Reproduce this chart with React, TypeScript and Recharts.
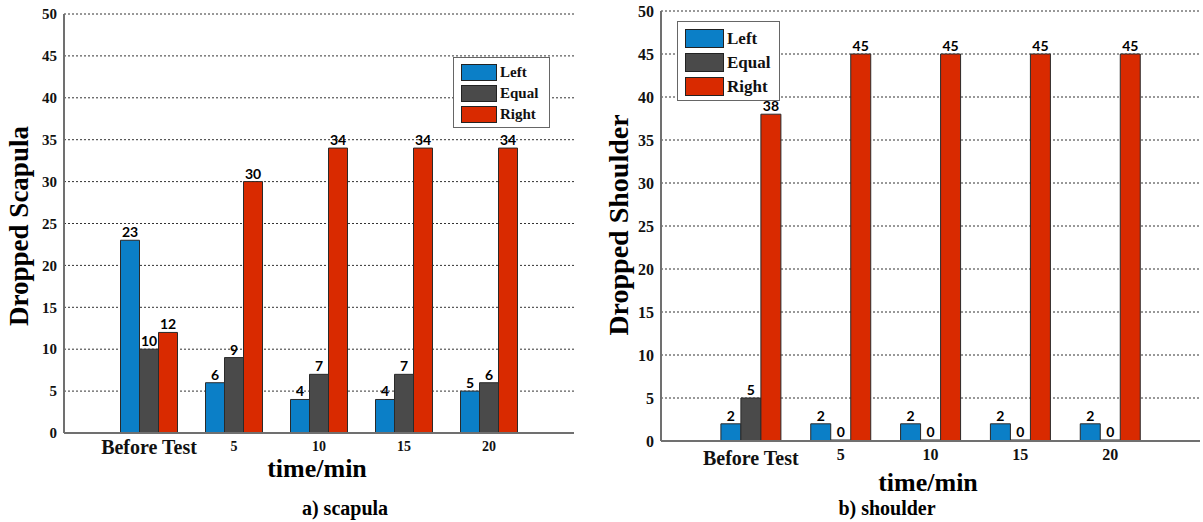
import React from 'react';
import { BarChart, Bar, XAxis, YAxis, CartesianGrid, Legend, LabelList, Label } from 'recharts';

const categories = ['Before Test', '5', '10', '15', '20'];
const seriesNames = ['Left', 'Equal', 'Right'];
const seriesColors = ['#0b7fc7', '#4a4a4a', '#d92a00'];
const scapulaLeft = [23, 6, 4, 4, 5];
const scapulaEqual = [10, 9, 7, 7, 6];
const scapulaRight = [12, 30, 34, 34, 34];
const shoulderLeft = [2, 2, 2, 2, 2];
const shoulderEqual = [5, 0, 0, 0, 0];
const shoulderRight = [38, 45, 45, 45, 45];
const yTicks = [0, 5, 10, 15, 20, 25, 30, 35, 40, 45, 50];

const SERIF = '"Liberation Serif", "Times New Roman", serif';
const SANS = 'Lato, "Open Sans", sans-serif';

const buildData = (l: number[], e: number[], r: number[]) =>
  categories.map((c, i) => ({ cat: c, Left: l[i], Equal: e[i], Right: r[i] }));

const scapulaData = buildData(scapulaLeft, scapulaEqual, scapulaRight);
const shoulderData = buildData(shoulderLeft, shoulderEqual, shoulderRight);

type PanelCfg = {
  data: any[];
  left: number;
  width: number;
  margin: { top: number; right: number; bottom: number; left: number };
  xPad: number;
  barSize: number;
  yTitle: string;
  yTitleX: number;
  yTitleY: number;
  yTitleSize: number;
  xTitleX: number;
  xTitleY: number;
  captionText: string;
  captionX: number;
  captionY: number;
  yTickSize: number;
  xNumSize: number;
  xBigSize: number;
  xBigDy: number;
  xNumDy: number;
  legendLeft: number;
  legendTop: number;
  legendW: number;
  legendH: number;
  swW: number;
  swH: number;
  legendFont: number;
};

const makeXTick = (cfg: PanelCfg) => (props: any) => {
  const { x, y, payload } = props;
  const big = payload.value === 'Before Test';
  return (
    <text
      x={x}
      y={y}
      dy={big ? cfg.xBigDy : cfg.xNumDy}
      textAnchor="middle"
      fontFamily={SERIF}
      fontWeight="bold"
      fontSize={big ? cfg.xBigSize : cfg.xNumSize}
      fill="#111"
    >
      {payload.value}
    </text>
  );
};

const makeYTick = (cfg: PanelCfg) => (props: any) => {
  const { x, y, payload } = props;
  return (
    <text x={x + 1} y={y} dy={cfg.yTickSize * 0.35} textAnchor="end" fontFamily={SERIF} fontWeight="bold" fontSize={cfg.yTickSize} fill="#111">
      {payload.value}
    </text>
  );
};

const makeLegend = (cfg: PanelCfg) => () => (
  <div
    style={{
      width: cfg.legendW,
      height: cfg.legendH,
      boxSizing: 'border-box',
      border: '1.5px solid #666',
      background: '#fff',
      padding: '4px 0 0 7px',
    }}
  >
    {seriesNames.map((n, i) => (
      <div key={n} style={{ display: 'flex', alignItems: 'center', height: (cfg.legendH - 8) / 3 }}>
        <span
          style={{
            display: 'inline-block',
            width: cfg.swW,
            height: cfg.swH,
            boxSizing: 'border-box',
            background: seriesColors[i],
            border: '1px solid #222',
            marginRight: 3,
          }}
        />
        <span style={{ fontFamily: SERIF, fontWeight: 'bold', fontSize: cfg.legendFont, color: '#111', lineHeight: 1 }}>{n}</span>
      </div>
    ))}
  </div>
);

const ValueLabel = (props: any) => {
  const { x, y, width, height, value } = props;
  if (value === undefined || value === null) return null;
  const top = Math.min(y, y + (height || 0));
  return (
    <text x={x + width / 2} y={top - 3} textAnchor="middle" fontFamily={SANS} fontWeight="bold" fontSize={14} fill="#000">
      {value}
    </text>
  );
};

const Panel = ({ cfg }: { cfg: PanelCfg }) => {
  return (
    <div style={{ position: 'absolute', left: cfg.left, top: 0 }}>
      <BarChart width={cfg.width} height={522} data={cfg.data} margin={cfg.margin} barGap={0} barSize={cfg.barSize}>
        <CartesianGrid vertical={false} stroke="#333" strokeDasharray="2 2" strokeWidth={1} />
        <XAxis
          dataKey="cat"
          height={30}
          padding={{ left: cfg.xPad, right: cfg.xPad }}
          axisLine={{ stroke: '#707070', strokeWidth: 2 }}
          tickLine={false}
          tick={makeXTick(cfg)}
          interval={0}
        >
          <Label
            content={() => (
              <g>
                <text x={cfg.xTitleX} y={cfg.xTitleY} textAnchor="middle" fontFamily={SERIF} fontWeight="bold" fontSize={26} fill="#000">
                  time/min
                </text>
                <text x={cfg.captionX} y={cfg.captionY} textAnchor="middle" fontFamily={SERIF} fontWeight="bold" fontSize={20} fill="#000">
                  {cfg.captionText}
                </text>
              </g>
            )}
          />
        </XAxis>
        <XAxis
          xAxisId="top"
          dataKey="cat"
          orientation="top"
          height={0}
          mirror
          padding={{ left: cfg.xPad, right: cfg.xPad }}
          tick={false}
          tickSize={4}
          tickLine={{ stroke: '#707070' }}
          axisLine={{ stroke: '#707070', strokeWidth: 2 }}
        />
        <YAxis
          domain={[0, 50]}
          ticks={yTicks}
          width={40}
          interval={0}
          axisLine={{ stroke: '#707070', strokeWidth: 2 }}
          tickLine={false}
          tick={makeYTick(cfg)}
        >
          <Label
            content={() => (
              <text
                x={cfg.yTitleX}
                y={cfg.yTitleY}
                transform={`rotate(-90, ${cfg.yTitleX}, ${cfg.yTitleY})`}
                textAnchor="middle"
                fontFamily={SERIF}
                fontWeight="bold"
                fontSize={cfg.yTitleSize}
                fill="#000"
              >
                {cfg.yTitle}
              </text>
            )}
          />
        </YAxis>
        <YAxis
          yAxisId="right"
          orientation="right"
          domain={[0, 50]}
          width={0}
          tick={false}
          tickLine={false}
          axisLine={{ stroke: '#707070', strokeWidth: 2 }}
        />
        <Legend
          layout="vertical"
          align="center"
          verticalAlign="middle"
          content={makeLegend(cfg)}
          wrapperStyle={{ left: cfg.legendLeft, top: cfg.legendTop, width: cfg.legendW, height: cfg.legendH }}
        />
        {seriesNames.map((n, i) => (
          <Bar
            key={n}
            dataKey={n}
            fill={seriesColors[i]}
            stroke="#2a2a2a"
            strokeWidth={1}
            minPointSize={1}
            isAnimationActive={false}
          >
            <LabelList dataKey={n} content={ValueLabel} />
          </Bar>
        ))}
      </BarChart>
    </div>
  );
};

const scapulaCfg: PanelCfg = {
  data: scapulaData,
  left: 0,
  width: 600,
  margin: { top: 14, right: 26, bottom: 59, left: 24 },
  xPad: 42.5,
  barSize: 19,
  yTitle: 'Dropped Scapula',
  yTitleX: 28,
  yTitleY: 226,
  yTitleSize: 27,
  xTitleX: 317,
  xTitleY: 477,
  captionText: 'a) scapula',
  captionX: 345,
  captionY: 515,
  yTickSize: 15,
  xNumSize: 14,
  xBigSize: 20,
  xBigDy: 13,
  xNumDy: 10,
  legendLeft: 453,
  legendTop: 57,
  legendW: 97,
  legendH: 71,
  swW: 36,
  swH: 17,
  legendFont: 15,
};

const shoulderCfg: PanelCfg = {
  data: shoulderData,
  left: 600,
  width: 603,
  margin: { top: 11, right: 3, bottom: 51, left: 21 },
  xPad: 44.9,
  barSize: 20,
  yTitle: 'Dropped Shoulder',
  yTitleX: 28,
  yTitleY: 225,
  yTitleSize: 28,
  xTitleX: 328,
  xTitleY: 491,
  captionText: 'b) shoulder',
  captionX: 287,
  captionY: 515,
  yTickSize: 16,
  xNumSize: 16,
  xBigSize: 20,
  xBigDy: 16,
  xNumDy: 11,
  legendLeft: 77,
  legendTop: 21,
  legendW: 103,
  legendH: 80,
  swW: 39,
  swH: 19,
  legendFont: 17,
};

export default function App() {
  return (
    <div style={{ position: 'absolute', left: 0, top: 0, width: 1203, height: 522, background: '#fff', overflow: 'hidden' }}>
      <Panel cfg={scapulaCfg} />
      <Panel cfg={shoulderCfg} />
    </div>
  );
}
